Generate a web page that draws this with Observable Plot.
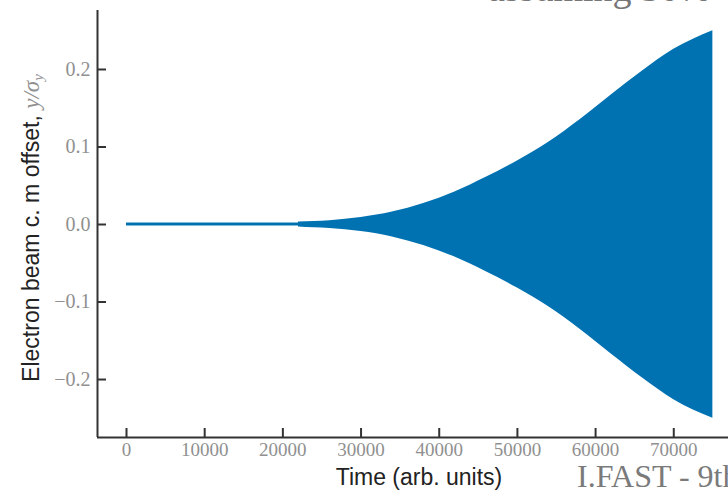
<!DOCTYPE html>
<html>
<head>
<meta charset="utf-8">
<script src="https://cdn.jsdelivr.net/npm/d3@7"></script>
<script src="https://cdn.jsdelivr.net/npm/@observablehq/plot@0.6"></script>
<style>
  html, body { margin: 0; padding: 0; background: #fff; }
  #chart { width: 728px; height: 491px; overflow: hidden; }
  #chart svg { display: block; }
</style>
</head>
<body>
<div id="chart"></div>
<script>
// Envelope of the centre-of-mass oscillation (growth after the instability sets in)
const time      = [0, 22000, 22000, 26000, 30000, 34000, 38000, 42000, 46000, 50000, 54000, 58000, 62000, 66000, 70000, 75000];
const amplitude = [0.0018, 0.0018, 0.0032, 0.005, 0.009, 0.016, 0.027, 0.042, 0.061, 0.082, 0.106, 0.135, 0.167, 0.198, 0.226, 0.250];

const xTicks = [0, 10000, 20000, 30000, 40000, 50000, 60000, 70000];
const yTicks = [-0.2, -0.1, 0.0, 0.1, 0.2];
const xDomain = [-3710, 77000];
const yDomain = [-0.2748, 0.2761];

const xLabel = "Time (arb. units)";
const yLabel = "Electron beam c. m offset, ";
const topNote = "assuming 50%";
const footNote = "I.FAST - 9th";

const envelope = time.map((t, i) => ({t, hi: amplitude[i], lo: -amplitude[i]}));

const W = 728, H = 491;
const mL = 97, mR = 0, mT = 10, mB = 54;
const frameW = W - mL - mR, frameH = H - mT - mB;
const tickLen = 9;
const blue = "#0072b2";
const ink = "#333333";
const tickGray = "#909090";
const serif = "'Liberation Serif', 'DejaVu Serif', serif";
const sans = "'Liberation Sans', Arial, sans-serif";

const fmtY = d => d.toFixed(1).replace("-", "\u2212");

const svg = Plot.plot({
  width: W,
  height: H,
  marginLeft: mL,
  marginRight: mR,
  marginTop: mT,
  marginBottom: mB,
  style: {background: "#fff", overflow: "visible"},
  x: {domain: xDomain, axis: null},
  y: {domain: yDomain, axis: null},
  marks: [
    Plot.areaY(envelope, {x: "t", y1: "lo", y2: "hi", fill: blue, curve: "monotone-x"}),
    // inward-pointing ticks
    Plot.tickX(xTicks, {x: d => d, stroke: ink, strokeWidth: 2, insetTop: frameH - tickLen}),
    Plot.tickY(yTicks, {y: d => d, stroke: ink, strokeWidth: 2, insetRight: frameW - tickLen}),
    // left and bottom spines
    Plot.ruleX([xDomain[0]], {stroke: ink, strokeWidth: 2}),
    Plot.ruleY([yDomain[0]], {stroke: ink, strokeWidth: 2}),
    // tick labels
    Plot.axisX(xTicks, {
      anchor: "bottom", tickSize: 0, tickPadding: 5, label: null,
      tickFormat: d => String(d), fontSize: 19, fontFamily: serif, fill: tickGray
    }),
    Plot.axisY(yTicks, {
      anchor: "left", tickSize: 0, tickPadding: 7, label: null,
      tickFormat: fmtY, fontSize: 20, fontFamily: serif, fill: tickGray
    })
  ]
});

const root = d3.select(svg);

// x-axis title
root.append("text")
  .attr("x", 419).attr("y", 485)
  .attr("text-anchor", "middle")
  .attr("font-family", sans).attr("font-size", 23).attr("fill", "#222")
  .text(xLabel);

// y-axis title with italic math part
const yt = root.append("text")
  .attr("transform", "translate(39,228) rotate(-90)")
  .attr("text-anchor", "middle")
  .attr("font-family", sans).attr("font-size", 23).attr("fill", "#222");
yt.append("tspan").text(yLabel);
yt.append("tspan").attr("font-family", serif).attr("font-style", "italic").attr("fill", tickGray).text("y/\u03c3");
yt.append("tspan").attr("font-family", serif).attr("font-style", "italic").attr("fill", tickGray)
  .attr("font-size", 15).attr("dy", 4).text("y");

// slide text running past the figure edges
root.append("text")
  .attr("x", 488).attr("y", 1)
  .attr("text-anchor", "start")
  .attr("font-family", serif).attr("font-size", 38).attr("fill", "#777")
  .text(topNote);
root.append("text")
  .attr("x", 577).attr("y", 487)
  .attr("text-anchor", "start")
  .attr("font-family", serif).attr("font-size", 32).attr("fill", "#7a7a7a")
  .text(footNote);

document.getElementById("chart").appendChild(svg);
</script>
</body>
</html>
